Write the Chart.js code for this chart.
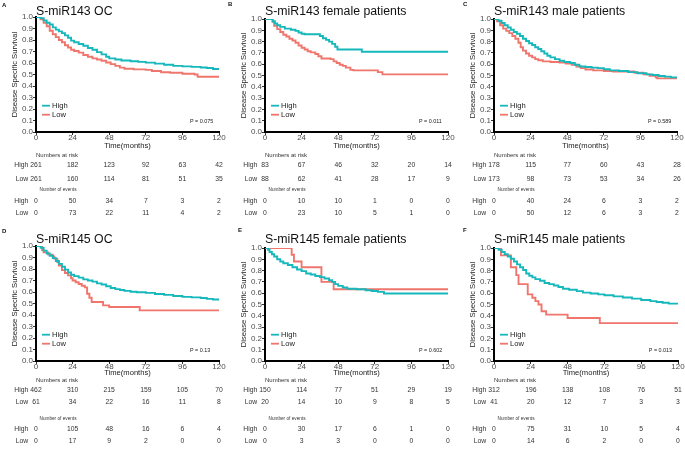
<!DOCTYPE html>
<html><head><meta charset="utf-8">
<script src="https://cdn.jsdelivr.net/npm/chart.js@4.4.1/dist/chart.umd.min.js"></script>
<style>
html,body{margin:0;padding:0;background:#fff;}
#wrap{position:relative;width:685px;height:449px;overflow:hidden;background:#fff;}
canvas{position:absolute;display:block;}
</style></head><body><div id="wrap"></div>
<script>
// ---------- DATA ----------
const timeTicks = [0, 24, 48, 72, 96, 120];
const survTicks = [0, 0.1, 0.2, 0.3, 0.4, 0.5, 0.6, 0.7, 0.8, 0.9, 1.0];
const groupLabels = ['High', 'Low'];
const panelTitles = ['S-miR143 OC', 'S-miR143 female patients', 'S-miR143 male patients',
                     'S-miR145 OC', 'S-miR145 female patients', 'S-miR145 male patients'];
const panelLetters = ['A', 'B', 'C', 'D', 'E', 'F'];
const pValues = ['P = 0.075', 'P = 0.011', 'P = 0.589', 'P = 0.13', 'P = 0.602', 'P = 0.013'];

// Kaplan-Meier curves: [time (months), survival]
const A_high = [[0,1],[3,0.99],[5,0.97],[7,0.95],[9,0.935],[11,0.91],[13,0.89],[15,0.875],[17,0.86],[19,0.84],[21,0.82],[23,0.795],[25,0.78],[28,0.765],[31,0.75],[34,0.73],[37,0.715],[40,0.695],[43,0.675],[46,0.655],[48,0.64],[52,0.63],[56,0.622],[62,0.615],[67,0.61],[72,0.603],[78,0.595],[84,0.585],[90,0.575],[96,0.571],[102,0.566],[108,0.561],[112,0.556],[116,0.548],[120,0.548]];
const A_low = [[0,1],[3,0.98],[5,0.95],[7,0.92],[9,0.88],[11,0.85],[13,0.825],[15,0.8],[17,0.78],[19,0.755],[21,0.735],[23,0.715],[25,0.705],[28,0.69],[31,0.67],[34,0.655],[37,0.64],[40,0.63],[43,0.62],[46,0.605],[49,0.59],[52,0.575],[55,0.56],[58,0.55],[64,0.545],[72,0.54],[76,0.53],[82,0.52],[88,0.515],[96,0.507],[104,0.5],[106,0.48],[120,0.48]];
const B_high = [[0,1],[5,0.98],[6.5,0.96],[8,0.945],[10,0.93],[13,0.915],[17,0.905],[20,0.895],[22,0.88],[24,0.87],[26,0.865],[34,0.865],[36,0.85],[38,0.83],[40,0.815],[42,0.8],[44,0.78],[46,0.755],[47.5,0.73],[58,0.73],[63.5,0.71],[120,0.71]];
const B_low = [[0,1],[5,0.975],[6,0.94],[8,0.91],[10,0.885],[12,0.86],[14,0.845],[16,0.825],[18,0.81],[20,0.79],[22,0.765],[24,0.745],[26,0.73],[28,0.715],[30,0.705],[33,0.69],[35,0.67],[37,0.65],[43,0.645],[45,0.625],[47,0.61],[49,0.595],[51,0.585],[53,0.57],[56,0.55],[58,0.545],[72,0.545],[74,0.53],[77,0.51],[120,0.51]];
const C_high = [[0,1],[3,0.985],[5,0.965],[7,0.945],[9,0.925],[11,0.905],[13,0.885],[15,0.87],[17,0.85],[19,0.825],[21,0.805],[23,0.785],[25,0.77],[27,0.75],[29,0.735],[31,0.715],[33,0.695],[35,0.675],[37,0.66],[40,0.645],[43,0.63],[46,0.62],[50,0.61],[53,0.595],[56,0.58],[60,0.575],[64,0.57],[68,0.565],[72,0.555],[76,0.545],[82,0.54],[88,0.53],[94,0.52],[100,0.51],[104,0.505],[108,0.495],[112,0.49],[116,0.483],[120,0.48]];
const C_low = [[0,1],[2,0.98],[4,0.945],[6,0.915],[8,0.895],[10,0.875],[12,0.85],[14,0.825],[16,0.79],[17.5,0.75],[19,0.72],[21,0.695],[23,0.675],[25,0.66],[27,0.645],[29,0.635],[32,0.625],[37,0.62],[43,0.615],[47,0.605],[51,0.595],[54,0.58],[57,0.565],[60,0.553],[65,0.545],[72,0.54],[78,0.535],[88,0.535],[92,0.525],[98,0.51],[102,0.497],[106,0.485],[107,0.475],[120,0.475]];
const D_high = [[0,1],[3,0.985],[5,0.96],[7,0.935],[9,0.915],[11,0.895],[13,0.87],[15,0.845],[17,0.82],[19,0.795],[21,0.77],[23,0.75],[25,0.738],[28,0.725],[31,0.71],[34,0.7],[37,0.69],[40,0.675],[43,0.665],[46,0.65],[49,0.635],[52,0.625],[55,0.618],[58,0.61],[62,0.602],[66,0.598],[72,0.592],[78,0.583],[84,0.575],[90,0.565],[96,0.558],[102,0.553],[108,0.548],[112,0.54],[116,0.535],[120,0.532]];
const D_low = [[0,1],[4,0.965],[5,0.945],[8,0.925],[11,0.91],[12,0.89],[14,0.86],[15,0.83],[17,0.79],[19,0.765],[21,0.745],[23,0.72],[24,0.7],[26,0.685],[28,0.67],[30,0.655],[32,0.64],[33.5,0.585],[35,0.55],[36.5,0.513],[44,0.484],[48,0.47],[68,0.44],[120,0.44]];
const E_high = [[0,1],[2,0.985],[3,0.965],[4.5,0.945],[6,0.925],[8,0.9],[10,0.88],[12,0.865],[15,0.85],[18,0.83],[21,0.81],[24,0.795],[27,0.775],[30,0.765],[33,0.752],[36,0.742],[39,0.73],[42,0.715],[44,0.7],[46,0.68],[48,0.665],[51,0.65],[54,0.64],[60,0.635],[66,0.626],[70,0.62],[74,0.612],[78,0.598],[120,0.598]];
const E_low = [[0,1],[17.5,0.94],[19,0.88],[24,0.83],[37,0.7],[45,0.635],[120,0.635]];
const F_high = [[0,1],[3,0.985],[5,0.965],[7,0.945],[9,0.925],[11,0.905],[13,0.88],[15,0.855],[17,0.83],[19,0.805],[21,0.775],[23,0.755],[25,0.74],[27,0.725],[30,0.71],[33,0.69],[36,0.68],[39,0.668],[42,0.655],[45,0.64],[49,0.63],[54,0.618],[58,0.605],[63,0.597],[68,0.59],[72,0.582],[78,0.572],[84,0.562],[90,0.552],[96,0.54],[102,0.53],[106,0.522],[110,0.515],[114,0.508],[120,0.503]];
const F_low = [[0,1],[4.5,0.935],[11,0.83],[14.5,0.76],[16,0.68],[22,0.59],[25,0.56],[27,0.53],[29,0.5],[31,0.44],[34,0.41],[48,0.38],[69,0.335],[120,0.335]];

// Numbers at risk / number of events at timeTicks
const A_riskHigh = [261,182,123,92,63,42], A_riskLow = [261,160,114,81,51,35];
const A_evHigh = [0,50,34,7,3,2], A_evLow = [0,73,22,11,4,2];
const B_riskHigh = [83,67,46,32,20,14], B_riskLow = [88,62,41,28,17,9];
const B_evHigh = [0,10,10,1,0,0], B_evLow = [0,23,10,5,1,0];
const C_riskHigh = [178,115,77,60,43,28], C_riskLow = [173,98,73,53,34,26];
const C_evHigh = [0,40,24,6,3,2], C_evLow = [0,50,12,6,3,2];
const D_riskHigh = [462,310,215,159,105,70], D_riskLow = [61,34,22,16,11,8];
const D_evHigh = [0,105,48,16,6,4], D_evLow = [0,17,9,2,0,0];
const E_riskHigh = [150,114,77,51,29,19], E_riskLow = [20,14,10,9,8,5];
const E_evHigh = [0,30,17,6,1,0], E_evLow = [0,3,3,0,0,0];
const F_riskHigh = [312,196,138,108,76,51], F_riskLow = [41,20,12,7,3,3];
const F_evHigh = [0,75,31,10,5,4], F_evLow = [0,14,6,2,0,0];

const curves = [[A_high,A_low],[B_high,B_low],[C_high,C_low],[D_high,D_low],[E_high,E_low],[F_high,F_low]];
const risks = [[A_riskHigh,A_riskLow,A_evHigh,A_evLow],[B_riskHigh,B_riskLow,B_evHigh,B_evLow],[C_riskHigh,C_riskLow,C_evHigh,C_evLow],
               [D_riskHigh,D_riskLow,D_evHigh,D_evLow],[E_riskHigh,E_riskLow,E_evHigh,E_evLow],[F_riskHigh,F_riskLow,F_evHigh,F_evLow]];

// ---------- STYLE / LAYOUT ----------
const FONT = '"Liberation Sans", Arial, Helvetica, sans-serif';
const HIGH_COLOR = '#16B8BC';
const LOW_COLOR = '#F0766D';
Chart.defaults.font.family = FONT;

const layout = [
  {ox:0,   oy:0,   w:228, h:224, l:36, r:219, t:17, b:132, lx:2,  ly:7, row:0},
  {ox:228, oy:0,   w:228, h:224, l:37, r:220, t:19, b:132, lx:0,  ly:6, row:0},
  {ox:456, oy:0,   w:229, h:224, l:38, r:221, t:19, b:132, lx:7,  ly:6, row:0},
  {ox:0,   oy:224, w:228, h:225, l:36, r:219, t:22, b:137, lx:2,  ly:9, row:1},
  {ox:228, oy:224, w:228, h:225, l:37, r:220, t:24, b:137, lx:10, ly:8, row:1},
  {ox:456, oy:224, w:229, h:225, l:38, r:222, t:24, b:137, lx:7,  ly:8, row:1},
];
const rowY = [
  {title:14.5, xt:14.3, nar:155, high:165.5, low:179.5, evl:190, hev:201, lev:213},
  {title:18.5, xt:12,   nar:156.3, high:166, low:177.7, evl:194.3, hev:205.5, lev:217.2},
];

const decor = {
  id: 'decor',
  afterDraw(chart, args, o) {
    const ctx = chart.ctx, ca = chart.chartArea, xs = chart.scales.x;
    const L = o.L, R = rowY[L.row];
    ctx.save();
    ctx.fillStyle = '#111';
    // panel letter
    ctx.font = 'bold 6px ' + FONT; ctx.textAlign = 'left'; ctx.textBaseline = 'alphabetic';
    ctx.fillText(o.letter, L.lx, L.ly);
    // title
    ctx.font = '12.3px ' + FONT;
    ctx.fillText(o.title, ca.left, R.title);
    // axis titles
    ctx.fillStyle = '#222';
    ctx.font = '7.6px ' + FONT; ctx.textAlign = 'center'; ctx.textBaseline = 'middle';
    ctx.fillText('Time(months)', (ca.left + ca.right) / 2, ca.bottom + R.xt);
    ctx.save();
    ctx.translate(ca.left - 21, (ca.top + ca.bottom) / 2);
    ctx.rotate(-Math.PI / 2);
    ctx.fillText('Disease Specific Survival', 0, 0);
    ctx.restore();
    // legend
    const legY = [ca.bottom - 26.3, ca.bottom - 17.3];
    const cols = [HIGH_COLOR, LOW_COLOR];
    ctx.textAlign = 'left';
    for (let i = 0; i < 2; i++) {
      ctx.strokeStyle = cols[i]; ctx.lineWidth = 1.8;
      ctx.beginPath(); ctx.moveTo(ca.left + 6, legY[i]); ctx.lineTo(ca.left + 14, legY[i]); ctx.stroke();
      ctx.fillStyle = '#222'; ctx.font = '7.6px ' + FONT;
      ctx.fillText(groupLabels[i], ca.left + 16, legY[i] + 0.3);
    }
    // p value
    ctx.font = '5.4px ' + FONT;
    ctx.fillText(o.p, xs.getPixelForValue(101), ca.bottom - 10);
    // risk table
    ctx.fillStyle = '#333';
    ctx.font = '6px ' + FONT;
    ctx.fillText('Numbers at risk', ca.left, R.nar);
    ctx.font = '4.7px ' + FONT;
    ctx.fillText('Number of events', ca.left + 3.5, R.evl);
    const rows = [[o.risk[0], R.high, groupLabels[0]], [o.risk[1], R.low, groupLabels[1]],
                  [o.risk[2], R.hev, groupLabels[0]], [o.risk[3], R.lev, groupLabels[1]]];
    ctx.font = '6.8px ' + FONT;
    rows.forEach(([vals, y, lab]) => {
      ctx.textAlign = 'right';
      ctx.fillText(lab, ca.left - 7.8, y);
      ctx.textAlign = 'center';
      vals.forEach((v, i) => ctx.fillText(String(v), xs.getPixelForValue(timeTicks[i]), y));
    });
    ctx.restore();
  }
};

const wrap = document.getElementById('wrap');
layout.forEach((L, k) => {
  const cv = document.createElement('canvas');
  cv.width = L.w; cv.height = L.h;
  cv.style.left = L.ox + 'px'; cv.style.top = L.oy + 'px';
  cv.style.width = L.w + 'px'; cv.style.height = L.h + 'px';
  wrap.appendChild(cv);
  const toXY = arr => arr.map(([x, y]) => ({x, y}));
  const axisCommon = {
    grid: {display: true, drawOnChartArea: false, drawTicks: true, tickLength: 3, color: '#333', lineWidth: 1},
    border: {display: true, color: '#000', width: 2},
  };
  new Chart(cv, {
    type: 'line',
    data: {datasets: [
      {label: groupLabels[0], data: toXY(curves[k][0]), borderColor: HIGH_COLOR, borderWidth: 1.9, stepped: true, pointRadius: 0, fill: false},
      {label: groupLabels[1], data: toXY(curves[k][1]), borderColor: LOW_COLOR, borderWidth: 1.9, stepped: true, pointRadius: 0, fill: false},
    ]},
    options: {
      responsive: false, animation: false, devicePixelRatio: 1, events: [],
      layout: {padding: {left: 0, top: L.t, right: L.w - L.r, bottom: 0}},
      scales: {
        x: Object.assign({
          type: 'linear', min: 0, max: 120,
          afterBuildTicks: s => { s.ticks = timeTicks.map(v => ({value: v})); },
          afterFit: s => { s.height = L.h - L.b; },
          ticks: {color: '#4d4d4d', font: {size: 8}, padding: -2, maxRotation: 0, autoSkip: false},
        }, axisCommon),
        y: Object.assign({
          type: 'linear', min: 0, max: 1,
          afterBuildTicks: s => { s.ticks = survTicks.map(v => ({value: v})); },
          afterFit: s => { s.width = L.l; },
          ticks: {color: '#4d4d4d', font: {size: 8}, padding: 0, autoSkip: false, callback: v => Number(v).toFixed(1)},
        }, axisCommon),
      },
      plugins: {
        legend: {display: false}, tooltip: {enabled: false},
        decor: {L, letter: panelLetters[k], title: panelTitles[k], p: pValues[k], risk: risks[k]},
      },
    },
    plugins: [decor],
  });
});
</script></body></html>
